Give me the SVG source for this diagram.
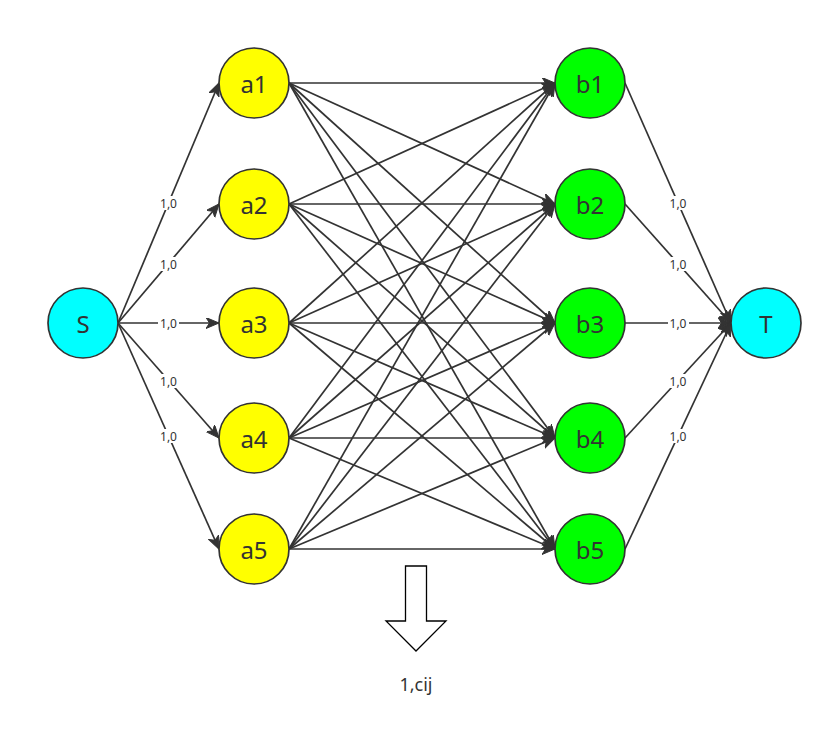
<svg xmlns="http://www.w3.org/2000/svg" width="833" height="734" viewBox="0 0 833 734">
<style>
.e{stroke:#333;stroke-width:1.7;fill:none;marker-end:url(#ah)}
.n{stroke:#333;stroke-width:1.7}
.t{font-family:"Noto Sans","Open Sans",sans-serif;font-size:24px;fill:#333;text-anchor:middle;dominant-baseline:central}
.l{font-family:"Noto Sans","Open Sans",sans-serif;font-size:12px;fill:#333;text-anchor:middle;dominant-baseline:central}
.lb{fill:#fff}
</style>
<defs>
<marker id="ah" markerUnits="userSpaceOnUse" markerWidth="16" markerHeight="14" refX="13" refY="5.5" orient="auto">
<path d="M0,0 L13,5.5 L0,11 L3.5,5.5 z" fill="#333" stroke="#333" stroke-width="1"/>
</marker>
</defs>
<rect width="833" height="734" fill="#fff"/>
<g id="connectors">
<line class="e" x1="118" y1="323" x2="219" y2="83"/>
<line class="e" x1="118" y1="323" x2="219" y2="204"/>
<line class="e" x1="118" y1="323" x2="219" y2="323"/>
<line class="e" x1="118" y1="323" x2="219" y2="438"/>
<line class="e" x1="118" y1="323" x2="219" y2="549"/>
<line class="e" x1="289" y1="83" x2="555" y2="83"/>
<line class="e" x1="289" y1="83" x2="555" y2="204"/>
<line class="e" x1="289" y1="83" x2="555" y2="323"/>
<line class="e" x1="289" y1="83" x2="555" y2="438"/>
<line class="e" x1="289" y1="83" x2="555" y2="549"/>
<line class="e" x1="289" y1="204" x2="555" y2="83"/>
<line class="e" x1="289" y1="204" x2="555" y2="204"/>
<line class="e" x1="289" y1="204" x2="555" y2="323"/>
<line class="e" x1="289" y1="204" x2="555" y2="438"/>
<line class="e" x1="289" y1="204" x2="555" y2="549"/>
<line class="e" x1="289" y1="323" x2="555" y2="83"/>
<line class="e" x1="289" y1="323" x2="555" y2="204"/>
<line class="e" x1="289" y1="323" x2="555" y2="323"/>
<line class="e" x1="289" y1="323" x2="555" y2="438"/>
<line class="e" x1="289" y1="323" x2="555" y2="549"/>
<line class="e" x1="289" y1="438" x2="555" y2="83"/>
<line class="e" x1="289" y1="438" x2="555" y2="204"/>
<line class="e" x1="289" y1="438" x2="555" y2="323"/>
<line class="e" x1="289" y1="438" x2="555" y2="438"/>
<line class="e" x1="289" y1="438" x2="555" y2="549"/>
<line class="e" x1="289" y1="549" x2="555" y2="83"/>
<line class="e" x1="289" y1="549" x2="555" y2="204"/>
<line class="e" x1="289" y1="549" x2="555" y2="323"/>
<line class="e" x1="289" y1="549" x2="555" y2="438"/>
<line class="e" x1="289" y1="549" x2="555" y2="549"/>
<line class="e" x1="625" y1="83" x2="731" y2="323"/>
<line class="e" x1="625" y1="204" x2="731" y2="323"/>
<line class="e" x1="625" y1="323" x2="731" y2="323"/>
<line class="e" x1="625" y1="438" x2="731" y2="323"/>
<line class="e" x1="625" y1="549" x2="731" y2="323"/>
<g id="labels">
<rect class="lb" x="158" y="196" width="21" height="14"/><text class="l" x="168.5" y="203">1,0</text>
<rect class="lb" x="158" y="257" width="21" height="14"/><text class="l" x="168.5" y="264">1,0</text>
<rect class="lb" x="158" y="316" width="21" height="14"/><text class="l" x="168.5" y="323">1,0</text>
<rect class="lb" x="158" y="374" width="21" height="14"/><text class="l" x="168.5" y="381">1,0</text>
<rect class="lb" x="158" y="429" width="21" height="14"/><text class="l" x="168.5" y="436">1,0</text>
<rect class="lb" x="668" y="196" width="21" height="14"/><text class="l" x="678" y="203">1,0</text>
<rect class="lb" x="668" y="257" width="21" height="14"/><text class="l" x="678" y="264">1,0</text>
<rect class="lb" x="668" y="316" width="21" height="14"/><text class="l" x="678" y="323">1,0</text>
<rect class="lb" x="668" y="374" width="21" height="14"/><text class="l" x="678" y="381">1,0</text>
<rect class="lb" x="668" y="429" width="21" height="14"/><text class="l" x="678" y="436">1,0</text>
</g>
</g>
<g id="S"><circle class="n" cx="83" cy="323" r="35" fill="#00ffff"/><text class="t" x="83" y="323">S</text></g>
<g id="a1"><circle class="n" cx="254" cy="83" r="35" fill="#ffff00"/><text class="t" x="254" y="83">a1</text></g>
<g id="a2"><circle class="n" cx="254" cy="204" r="35" fill="#ffff00"/><text class="t" x="254" y="204">a2</text></g>
<g id="a3"><circle class="n" cx="254" cy="323" r="35" fill="#ffff00"/><text class="t" x="254" y="323">a3</text></g>
<g id="a4"><circle class="n" cx="254" cy="438" r="35" fill="#ffff00"/><text class="t" x="254" y="438">a4</text></g>
<g id="a5"><circle class="n" cx="254" cy="549" r="35" fill="#ffff00"/><text class="t" x="254" y="549">a5</text></g>
<g id="b1"><circle class="n" cx="590" cy="83" r="35" fill="#00ff00"/><text class="t" x="590" y="83">b1</text></g>
<g id="b2"><circle class="n" cx="590" cy="204" r="35" fill="#00ff00"/><text class="t" x="590" y="204">b2</text></g>
<g id="b3"><circle class="n" cx="590" cy="323" r="35" fill="#00ff00"/><text class="t" x="590" y="323">b3</text></g>
<g id="b4"><circle class="n" cx="590" cy="438" r="35" fill="#00ff00"/><text class="t" x="590" y="438">b4</text></g>
<g id="b5"><circle class="n" cx="590" cy="549" r="35" fill="#00ff00"/><text class="t" x="590" y="549">b5</text></g>
<g id="T"><circle class="n" cx="766" cy="323" r="35" fill="#00ffff"/><text class="t" x="766" y="323">T</text></g>
<g id="bigarrow"><path d="M405.5,566 H426.5 V621 H446 L416,651 L386,621 H405.5 Z" fill="#fff" stroke="#000" stroke-width="1.3"/></g>
<g id="caption"><text class="t" style="font-size:18px" x="416" y="684">1,cij</text></g>
</svg>
